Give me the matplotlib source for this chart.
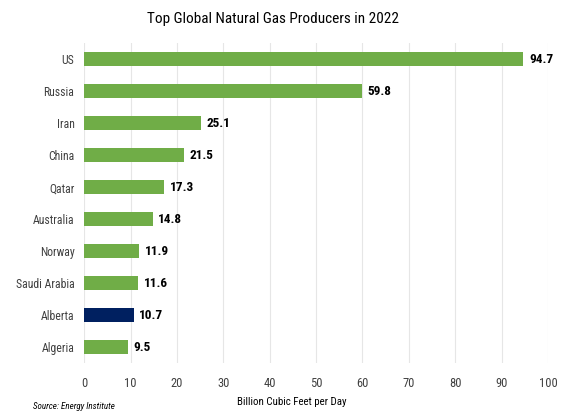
import matplotlib.pyplot as plt

plt.rcParams['font.family'] = ['Roboto Condensed', 'DejaVu Sans']

countries = ['US', 'Russia', 'Iran', 'China', 'Qatar', 'Australia', 'Norway',
             'Saudi Arabia', 'Alberta', 'Algeria']
values = [94.7, 59.8, 25.1, 21.5, 17.3, 14.8, 11.9, 11.6, 10.7, 9.5]
highlight = 'Alberta'

green = '#70AD47'
navy = '#002060'
colors = [navy if c == highlight else green for c in countries]

fig = plt.figure(figsize=(5.69, 4.15), dpi=100)
ax = fig.add_axes([0.148, 0.125, 0.815, 0.771])

y = list(range(len(countries)))
ax.barh(y, values, height=0.42, color=colors)
for yi, v in zip(y, values):
    ax.text(v + 1.2, yi, f'{v}', va='center', ha='left', fontsize=9.5, fontweight='bold')

ax.set_yticks(y)
ax.set_yticklabels(countries, fontsize=8.5, color='#404040')
ax.set_ylim(9.5, -0.5)
ax.set_xlim(0, 100)
ax.set_xticks(range(0, 101, 10))
ax.tick_params(axis='x', labelsize=9, labelcolor='#404040', length=0, pad=10)
ax.tick_params(axis='y', length=0, pad=7)
ax.grid(axis='x', color='#e6e6e6', linewidth=0.8)
ax.set_axisbelow(True)
for s in ax.spines.values():
    s.set_visible(False)

ax.set_xlabel('Billion Cubic Feet per Day', fontsize=7.8)
ax.xaxis.set_label_coords(0.448, -0.105)
fig.text(0.48, 0.955, 'Top Global Natural Gas Producers in 2022', ha='center', va='center', fontsize=11)
fig.text(0.058, 0.02, 'Source: Energy Institute', ha='left', va='center', fontsize=6.5, style='italic')

fig.savefig('out.png', dpi=100)
